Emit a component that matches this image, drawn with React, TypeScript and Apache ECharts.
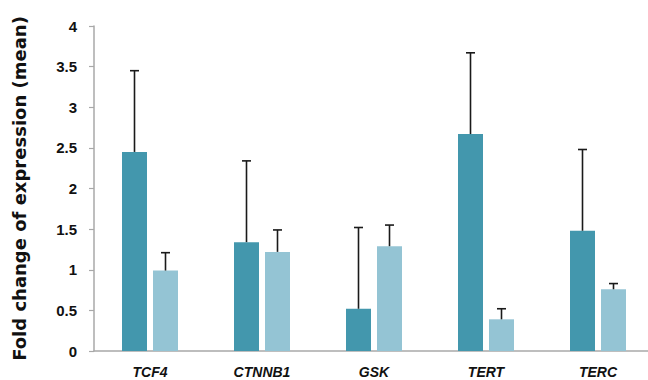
import React, { useEffect, useRef } from "react";
import * as echarts from "echarts";

const categories = ["TCF4", "CTNNB1", "GSK", "TERT", "TERC"];
const darkValues = [2.45, 1.34, 0.52, 2.67, 1.48];
const darkErrors = [1.0, 1.0, 1.0, 1.0, 1.0];
const lightValues = [0.99, 1.22, 1.29, 0.39, 0.76];
const lightErrors = [0.22, 0.27, 0.26, 0.13, 0.07];
const yTicks = [0, 0.5, 1, 1.5, 2, 2.5, 3, 3.5, 4];

const DARK = "#4397ad";
const LIGHT = "#94c4d4";
const BAR_W = 25;
const BAR_GAP = 6;

function errorSeries(values: number[], errors: number[], side: number) {
  return {
    type: "custom",
    z: 10,
    silent: true,
    data: values.map((v, i) => [i, v, v + errors[i]]),
    renderItem: (params: any, api: any) => {
      const idx = api.value(0);
      const lo = api.coord([idx, api.value(1)]);
      const hi = api.coord([idx, api.value(2)]);
      const x = lo[0] + side * (BAR_W + BAR_GAP) / 2;
      const cap = 4.5;
      const style = { stroke: "#1a1a1a", lineWidth: 1.6 };
      return {
        type: "group",
        children: [
          { type: "line", shape: { x1: x, y1: lo[1], x2: x, y2: hi[1] }, style },
          { type: "line", shape: { x1: x - cap, y1: hi[1], x2: x + cap, y2: hi[1] }, style },
        ],
      };
    },
  };
}

export default function App() {
  const ref = useRef<HTMLDivElement>(null);
  useEffect(() => {
    if (!ref.current) return;
    const chart = echarts.init(ref.current, null, { renderer: "svg" });
    chart.setOption({
      animation: false,
      backgroundColor: "#ffffff",
      grid: {
        left: 94,
        top: 26,
        bottom: 29,
        width: 560,
        containLabel: false,
        outerBoundsMode: "none",
      },
      xAxis: {
        type: "category",
        data: categories,
        axisLine: { lineStyle: { color: "#a8a8a8", width: 1.5 } },
        axisTick: { show: false },
        axisLabel: {
          margin: 14,
          color: "#111",
          fontFamily: "Liberation Sans, Arial, sans-serif",
          fontWeight: "bold",
          fontStyle: "italic",
          fontSize: 14,
        },
      },
      yAxis: {
        type: "value",
        min: yTicks[0],
        max: yTicks[yTicks.length - 1],
        interval: 0.5,
        name: "Fold change of expression (mean)",
        nameLocation: "middle",
        nameGap: 66,
        nameTextStyle: {
          color: "#111",
          fontFamily: "DejaVu Sans, sans-serif",
          fontWeight: "bold",
          fontSize: 18,
        },
        axisLine: { show: true, lineStyle: { color: "#a8a8a8", width: 1.5 } },
        axisTick: { show: true, length: 5, lineStyle: { color: "#a8a8a8", width: 1.2 } },
        splitLine: { show: false },
        axisLabel: {
          margin: 17,
          color: "#111",
          fontFamily: "Liberation Sans, Arial, sans-serif",
          fontWeight: "bold",
          fontSize: 15,
          formatter: (v: number) => String(v),
        },
      },
      series: [
        {
          type: "bar",
          data: darkValues,
          barWidth: BAR_W,
          barGap: `${(BAR_GAP / BAR_W) * 100}%`,
          itemStyle: { color: DARK },
        },
        {
          type: "bar",
          data: lightValues,
          barWidth: BAR_W,
          itemStyle: { color: LIGHT },
        },
        errorSeries(darkValues, darkErrors, -1),
        errorSeries(lightValues, lightErrors, 1),
      ],
    });
    return () => chart.dispose();
  }, []);
  return (
    <div
      ref={ref}
      style={{ position: "fixed", left: 0, top: 0, width: 648, height: 380, background: "#fff" }}
    />
  );
}
